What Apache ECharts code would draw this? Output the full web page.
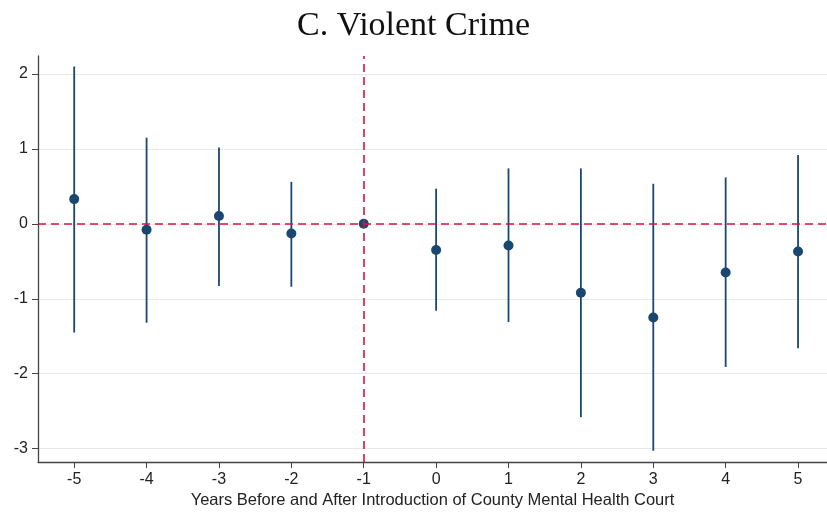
<!DOCTYPE html>
<html>
<head>
<meta charset="utf-8">
<script src="https://cdn.jsdelivr.net/npm/echarts@6/dist/echarts.min.js"></script>
<style>
  html, body { margin: 0; padding: 0; background: #fff; }
  #chart { width: 827px; height: 514px; }
</style>
</head>
<body>
<div id="chart"></div>
<script>
// Event-study estimates: years relative to introduction of the court
const years = [-5, -4, -3, -2, -1, 0, 1, 2, 3, 4, 5];
const estimates = [0.33, -0.08, 0.105, -0.13, 0, -0.35, -0.29, -0.92, -1.25, -0.65, -0.37];
const ciLow  = [-1.45, -1.32, -0.83, -0.84, 0, -1.16, -1.31, -2.58, -3.03, -1.91, -1.66];
const ciHigh = [2.10, 1.15, 1.02, 0.56, 0, 0.47, 0.74, 0.74, 0.535, 0.62, 0.92];
const yTicks = [-3, -2, -1, 0, 1, 2];
const refYear = -1;
const refLevel = 0;

const navy = '#1a476f';
const red = '#d4143f';

const chart = echarts.init(document.getElementById('chart'));

const pointData = years.map((y, i) => [y, estimates[i]]);
const ciData = years.map((y, i) => [y, ciLow[i], ciHigh[i]]);

const sans = '"Liberation Sans", Arial, sans-serif';

chart.setOption({
  animation: false,
  backgroundColor: '#fff',
  title: {
    text: 'C. Violent Crime',
    left: 'center',
    top: 4,
    textStyle: {
      fontFamily: '"Liberation Serif", "DejaVu Serif", serif',
      fontWeight: 'normal',
      fontSize: 34,
      color: '#111'
    }
  },
  grid: { left: 38, right: 0, top: 56, bottom: 45, containLabel: false },
  xAxis: {
    type: 'value',
    min: -5.5,
    max: 5.4,
    name: 'Years Before and After Introduction of County Mental Health Court',
    nameLocation: 'middle',
    nameGap: 27,
    nameTextStyle: { fontFamily: sans, fontSize: 16.5, color: '#222' },
    axisLine: { show: true, onZero: false, lineStyle: { color: '#444', width: 1.3 } },
    axisTick: { show: true, length: 6, customValues: years, lineStyle: { color: '#444' } },
    axisLabel: { customValues: years, margin: 9, fontFamily: sans, fontSize: 16, color: '#222' },
    splitLine: { show: false }
  },
  yAxis: {
    type: 'value',
    min: -3.18,
    max: 2.24,
    axisLine: { show: true, onZero: false, lineStyle: { color: '#444', width: 1.3 } },
    axisTick: { show: true, length: 6, customValues: yTicks, lineStyle: { color: '#444' } },
    axisLabel: { customValues: yTicks, margin: 10, fontFamily: sans, fontSize: 16, color: '#222' },
    splitLine: { show: true, lineStyle: { color: '#e8e8e8', width: 1 } }
  },
  series: [
    {
      type: 'custom',
      name: 'CI',
      data: ciData,
      z: 2,
      renderItem: function (params, api) {
        const x = api.value(0);
        const lo = api.coord([x, api.value(1)]);
        const hi = api.coord([x, api.value(2)]);
        return {
          type: 'line',
          shape: { x1: lo[0], y1: lo[1], x2: hi[0], y2: hi[1] },
          style: { stroke: navy, lineWidth: 1.8 }
        };
      }
    },
    {
      type: 'scatter',
      name: 'Estimate',
      data: pointData,
      symbol: 'circle',
      symbolSize: 10,
      itemStyle: { color: navy, opacity: 1 },
      z: 4,
      markLine: {
        silent: true,
        symbol: ['none', 'none'],
        label: { show: false },
        lineStyle: { color: red, type: [8, 5], width: 1.6 },
        data: [
          { xAxis: refYear },
          { yAxis: refLevel }
        ]
      }
    }
  ]
});
</script>
</body>
</html>
